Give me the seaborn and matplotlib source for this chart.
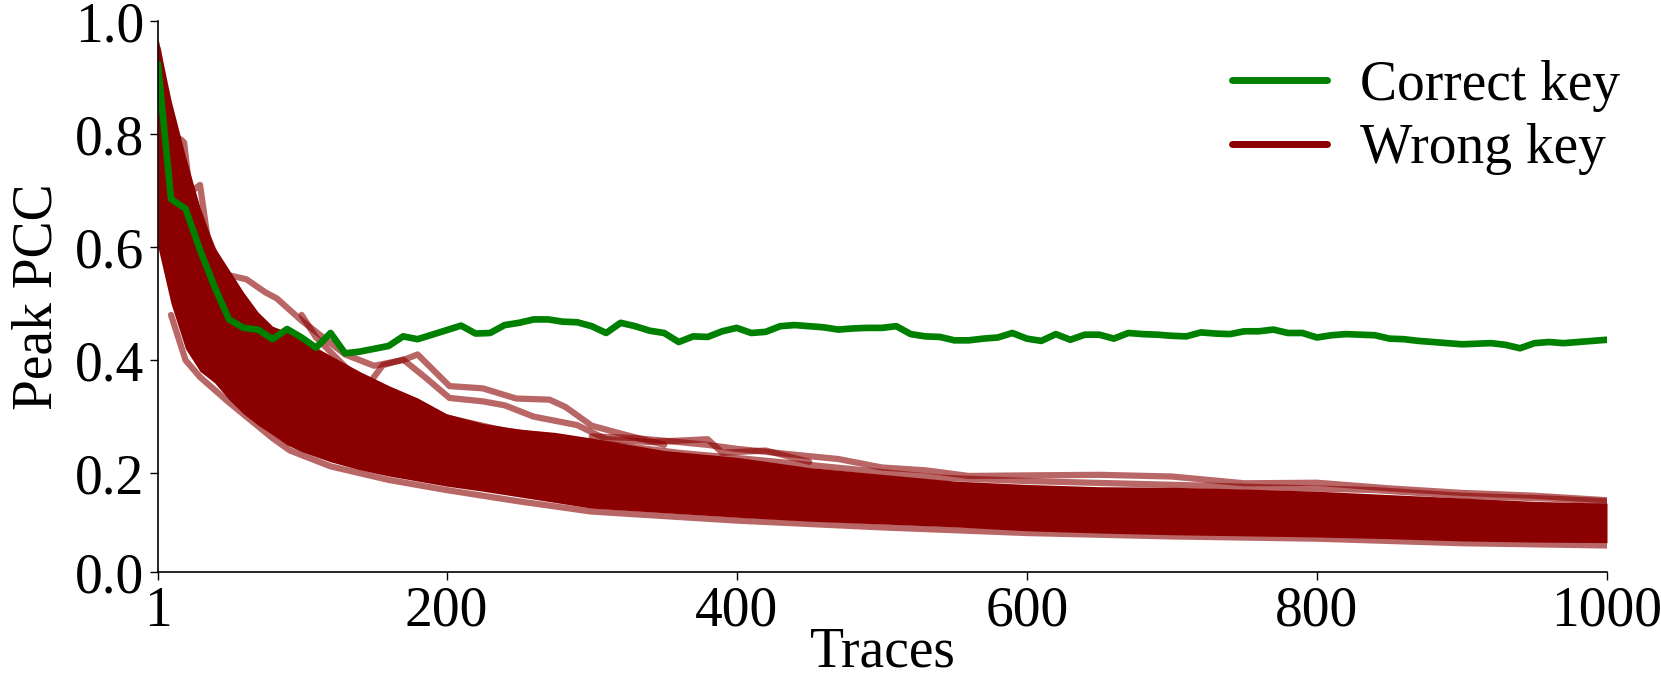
import matplotlib
matplotlib.use("Agg")
import matplotlib.pyplot as plt
from matplotlib.lines import Line2D
import pandas as pd
import seaborn as sns

# -------------------------------
# Data
# -------------------------------
traces = [1] + list(range(10, 1001, 10))
correct_key = [
    0.924,
    0.685, 0.668, 0.595, 0.530, 0.472, 0.457, 0.454, 0.437, 0.455, 0.440,
    0.422, 0.448, 0.412, 0.415, 0.420, 0.425, 0.442, 0.437, 0.445, 0.453,
    0.461, 0.447, 0.448, 0.462, 0.466, 0.472, 0.472, 0.468, 0.467, 0.460,
    0.448, 0.466, 0.460, 0.452, 0.448, 0.432, 0.442, 0.441, 0.451, 0.457,
    0.448, 0.450, 0.460, 0.462, 0.460, 0.458, 0.454, 0.456, 0.457, 0.457,
    0.460, 0.446, 0.442, 0.441, 0.435, 0.435, 0.438, 0.440, 0.448, 0.438,
    0.434, 0.446, 0.436, 0.445, 0.445, 0.438, 0.448, 0.446, 0.445, 0.443,
    0.442, 0.449, 0.447, 0.446, 0.451, 0.451, 0.454, 0.448, 0.448, 0.440,
    0.444, 0.446, 0.445, 0.444, 0.438, 0.437, 0.434, 0.432, 0.430, 0.428,
    0.429, 0.430, 0.427, 0.421, 0.430, 0.432, 0.430, 0.432, 0.434, 0.436,
]

# wrong-key band (dense core of the 255 wrong guesses)
band_traces = [1, 10, 20, 30, 40, 50, 60, 70, 80, 90, 100, 120, 140, 160, 180,
               200, 225, 250, 275, 300, 350, 400, 450, 500, 550, 600, 650,
               700, 750, 800, 850, 900, 950, 1000]
wrong_upper = [0.97, 0.86, 0.76, 0.67, 0.60, 0.56, 0.52, 0.485, 0.46, 0.45,
               0.437, 0.408, 0.38, 0.355, 0.333, 0.305, 0.288, 0.278, 0.272,
               0.262, 0.240, 0.228, 0.210, 0.198, 0.186, 0.180, 0.176, 0.175,
               0.172, 0.168, 0.162, 0.156, 0.150, 0.147]
wrong_lower = [0.60, 0.50, 0.42, 0.38, 0.36, 0.33, 0.305, 0.285, 0.268, 0.25,
               0.238, 0.220, 0.206, 0.195, 0.186, 0.177, 0.168, 0.158, 0.148,
               0.138, 0.130, 0.122, 0.115, 0.110, 0.105, 0.098, 0.094, 0.091,
               0.089, 0.087, 0.084, 0.080, 0.078, 0.077]

# single wrong-key curves sticking out of the band
stray_a_t = [40, 50, 62, 75, 83, 100, 115, 130, 150, 170, 180, 202, 225, 248,
             271, 282, 300, 320, 350]
stray_a = [0.58, 0.55, 0.543, 0.52, 0.509, 0.47, 0.44, 0.41, 0.39, 0.40, 0.41,
           0.354, 0.35, 0.332, 0.330, 0.317, 0.284, 0.27, 0.25]
stray_b_t = [100, 110, 133, 147, 156, 170, 185, 202, 225, 240, 260, 290, 310,
             340, 380, 390, 420, 450]
stray_b = [0.48, 0.44, 0.381, 0.36, 0.391, 0.401, 0.37, 0.333, 0.327, 0.32,
           0.30, 0.285, 0.26, 0.255, 0.26, 0.236, 0.24, 0.22]
stray_c_t = [1, 10, 17, 19, 22, 30, 40]
stray_c = [0.95, 0.80, 0.79, 0.785, 0.72, 0.65, 0.58]
stray_d_t = [20, 25, 30, 35, 45]
stray_d = [0.72, 0.70, 0.71, 0.62, 0.56]
stray_e_t = [300, 330, 360, 380, 400, 450, 470, 500, 530, 560, 600, 650, 700,
             750, 800, 850, 900, 950, 1000]
stray_e = [0.265, 0.262, 0.255, 0.25, 0.243, 0.23, 0.225, 0.21, 0.205, 0.195,
           0.196, 0.197, 0.194, 0.182, 0.183, 0.173, 0.165, 0.16, 0.152]
stray_f_t = [10, 20, 30, 50, 80, 92, 120, 160, 200, 250, 300, 400, 500, 600,
             700, 800, 900, 1000]
stray_f = [0.48, 0.40, 0.37, 0.325, 0.262, 0.240, 0.212, 0.188, 0.170, 0.150,
           0.132, 0.116, 0.104, 0.094, 0.088, 0.084, 0.076, 0.072]
stray_g_t = [60, 90, 130, 180, 240, 300, 360, 420, 480, 540, 600, 660, 720,
             780, 840, 900, 960, 1000]
stray_g = [0.47, 0.42, 0.36, 0.31, 0.275, 0.255, 0.236, 0.222, 0.207, 0.192,
           0.186, 0.182, 0.178, 0.174, 0.170, 0.160, 0.155, 0.150]

x_ticks = [1, 200, 400, 600, 800, 1000]
y_ticks = [0.025, 0.2, 0.4, 0.6, 0.8, 1.0]
y_tick_labels = ["0.0", "0.2", "0.4", "0.6", "0.8", "1.0"]

# -------------------------------
# Plot
# -------------------------------
sns.set_style("ticks")
plt.rcParams["font.family"] = ["Liberation Serif", "DejaVu Serif"]
for key in ["text.color", "axes.labelcolor", "xtick.color", "ytick.color",
            "axes.edgecolor"]:
    plt.rcParams[key] = "black"

RED = "#8b0000"
GREEN = "#008000"

fig = plt.figure(figsize=(16.61, 6.76), dpi=100)
ax = fig.add_axes([0.0951, 0.1538, 0.8724, 0.8151])

ax.fill_between(band_traces, wrong_lower, wrong_upper, color=RED, lw=0)
strays = [(stray_a_t, stray_a), (stray_b_t, stray_b), (stray_c_t, stray_c),
          (stray_d_t, stray_d), (stray_e_t, stray_e), (stray_f_t, stray_f),
          (stray_g_t, stray_g)]
for st, sv in strays:
    sns.lineplot(x=st, y=sv, ax=ax, color=RED, lw=4.5, alpha=0.6)

df = pd.DataFrame({"Traces": traces, "PCC": correct_key})
sns.lineplot(data=df, x="Traces", y="PCC", ax=ax, color=GREEN, lw=4.8)

ax.set_xlim(1, 1000)
ax.set_ylim(0.025, 1.0)
ax.set_xticks(x_ticks)
ax.set_xticklabels([str(t) for t in x_ticks])
ax.set_yticks(y_ticks)
ax.set_yticklabels(y_tick_labels)
ax.tick_params(labelsize=40, length=6, width=1, pad=4)
ax.set_xlabel("Traces", fontsize=40, labelpad=-8)
ax.set_ylabel("Peak PCC", fontsize=40, labelpad=8)
sns.despine(ax=ax)
for sp in ax.spines.values():
    sp.set_linewidth(1.2)

handles = [Line2D([], [], color=GREEN, lw=5), Line2D([], [], color=RED, lw=5)]
ax.legend(handles, ["Correct key", "Wrong key"], loc="upper right",
          bbox_to_anchor=(1.036, 1.0), frameon=False, fontsize=40,
          handlelength=1.7, handletextpad=0.6, labelspacing=0.2,
          borderaxespad=0.3)

fig.savefig("out.png", dpi=100)
